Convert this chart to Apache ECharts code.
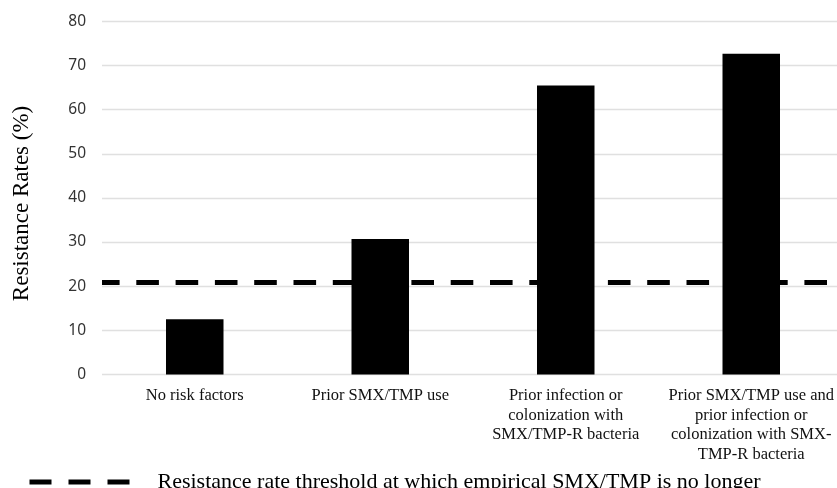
<!DOCTYPE html>
<html>
<head>
<meta charset="utf-8">
<script src="https://cdn.jsdelivr.net/npm/echarts@6/dist/echarts.min.js"></script>
<style>html,body{margin:0;padding:0;background:#fff;}#c{width:837px;height:488px;}</style>
</head>
<body>
<div id="c"></div>
<script>
const categories = [
  "No risk factors",
  "Prior SMX/TMP use",
  "Prior infection or\ncolonization with\nSMX/TMP-R bacteria",
  "Prior SMX/TMP use and\nprior infection or\ncolonization with SMX-\nTMP-R bacteria"
];
const rates = [12.5, 30.7, 65.5, 72.7];
const threshold = 20.8;
const yTicks = { min: 0, max: 80, interval: 10 };
const yTitle = "Resistance Rates (%)";
const thresholdLabel = "Resistance rate threshold at which empirical SMX/TMP is no longer";

const chart = echarts.init(document.getElementById('c'), null, { renderer: 'canvas' });
chart.setOption({
  animation: false,
  backgroundColor: '#fff',
  grid: { left: 102, right: -7, top: 21.5, bottom: 113.6, containLabel: false, outerBoundsMode: 'none' },
  legend: {
    left: 22, top: 466,
    itemWidth: 100, itemHeight: 22,
    data: [thresholdLabel],
    itemStyle: { color: 'rgba(0,0,0,0)', borderColor: 'rgba(0,0,0,0)', borderWidth: 0, opacity: 0 },
    lineStyle: { color: '#000', width: 5, type: [22, 17], dashOffset: 0, cap: 'butt' },
    textStyle: { fontFamily: 'Liberation Serif', fontSize: 22, color: '#000', lineHeight: 22, padding: [0, 0, 0, 23] }
  },
  xAxis: {
    type: 'category',
    data: categories,
    axisLine: { show: false },
    axisTick: { show: false },
    axisLabel: { interval: 0, margin: 12, fontFamily: 'Liberation Serif', fontSize: 16.5, lineHeight: 19.4, color: '#111' }
  },
  yAxis: {
    type: 'value',
    min: yTicks.min, max: yTicks.max, interval: yTicks.interval,
    name: yTitle,
    nameLocation: 'middle',
    nameGap: 69,
    nameTextStyle: { fontFamily: 'Liberation Serif', fontSize: 23, color: '#000', padding: [0, 11, 0, 0] },
    axisLine: { show: false },
    axisTick: { show: false },
    axisLabel: { margin: 16, fontFamily: 'Noto Sans', fontSize: 15.5, color: '#333' },
    splitLine: { lineStyle: { color: '#e0e0e0', width: 1.3 } }
  },
  series: [
    {
      type: 'bar',
      data: rates,
      barWidth: '31%',
      itemStyle: { color: '#000' },
      z: 2
    },
    {
      name: thresholdLabel,
      type: 'line',
      data: [],
      symbol: 'none',
      showSymbol: false,
      lineStyle: { color: '#000', width: 5, type: [22, 17] },
      itemStyle: { color: '#000' },
      markLine: {
        silent: true,
        symbol: ['none', 'none'],
        label: { show: false },
        lineStyle: { color: '#000', width: 4.8, type: [22.6, 16.7], dashOffset: 5 },
        data: [{ yAxis: threshold }]
      },
      z: 3
    }
  ]
});
</script>
</body>
</html>
